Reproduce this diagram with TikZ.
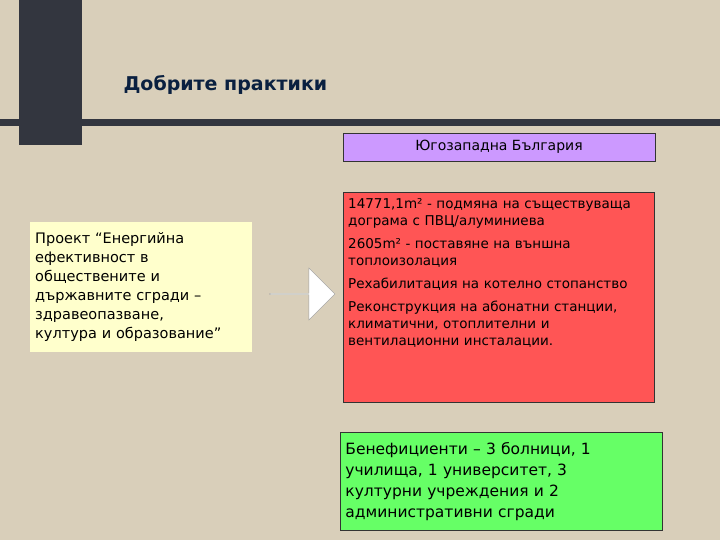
\documentclass[tikz,border=0pt]{standalone}
\usepackage{fontspec}
\setmainfont{DejaVu Sans}
\usetikzlibrary{shapes.arrows}
\definecolor{bg}{RGB}{217,207,186}
\definecolor{dark}{RGB}{51,54,63}
\definecolor{navy}{RGB}{10,32,64}
\definecolor{purp}{RGB}{204,153,255}
\definecolor{redf}{RGB}{255,85,85}
\definecolor{yel}{RGB}{255,255,204}
\definecolor{grn}{RGB}{102,255,102}
\begin{document}
\begin{tikzpicture}[x=1pt,y=-1pt,
  box/.style={draw=black!80,line width=0.8pt,anchor=north west,inner sep=5pt,align=left}]
\useasboundingbox (0,0) rectangle (720,540);
\fill[bg] (0,0) rectangle (720,540);
\fill[dark] (0,119) rectangle (720,126);
\fill[dark] (19,0) rectangle (82,145);
\node[anchor=west,font=\bfseries\fontsize{19}{22}\selectfont,text=navy] (title) at (120,85) {Добрите практики};
\node[box,fill=purp,minimum width=312,minimum height=28,align=center,anchor=center,font=\fontsize{14}{17}\selectfont] (reg) at (499,147) {Югозападна България};
\draw[draw=black!80,line width=0.8pt,fill=redf] (343,192) rectangle (654,402);
\node[anchor=north west,text width=300,inner sep=5pt,align=left,font=\fontsize{13.5}{17}\selectfont] (red) at (343,193) {14771,1m² - подмяна на съществуваща\\дограма с ПВЦ/алуминиева\\[6pt]2605m² - поставяне на външна\\топлоизолация\\[6pt]Рехабилитация на котелно стопанство\\[6pt]Реконструкция на абонатни станции,\\климатични, отоплителни и\\вентилационни инсталации.};
\node[fill=yel,text width=212,minimum height=130,anchor=north west,inner sep=5pt,align=left,font=\fontsize{14.5}{19}\selectfont] (proj) at (30,222) {Проект “Енергийна\\ефективност в\\обществените и\\държавните сгради –\\здравеопазване,\\култура и образование”};
\node[single arrow,draw=gray!80,fill=white,minimum height=65,minimum width=52,single arrow head extend=7pt,single arrow head indent=0pt,inner sep=0pt,anchor=center] (arr) at (302,294) {};
\node[box,fill=grn,text width=312,minimum height=98,anchor=north west,font=\fontsize{15.5}{21}\selectfont] (ben) at (340,432) {Бенефициенти – 3 болници, 1\\училища, 1 университет, 3\\културни учреждения и 2\\административни сгради};
\end{tikzpicture}
\end{document}
